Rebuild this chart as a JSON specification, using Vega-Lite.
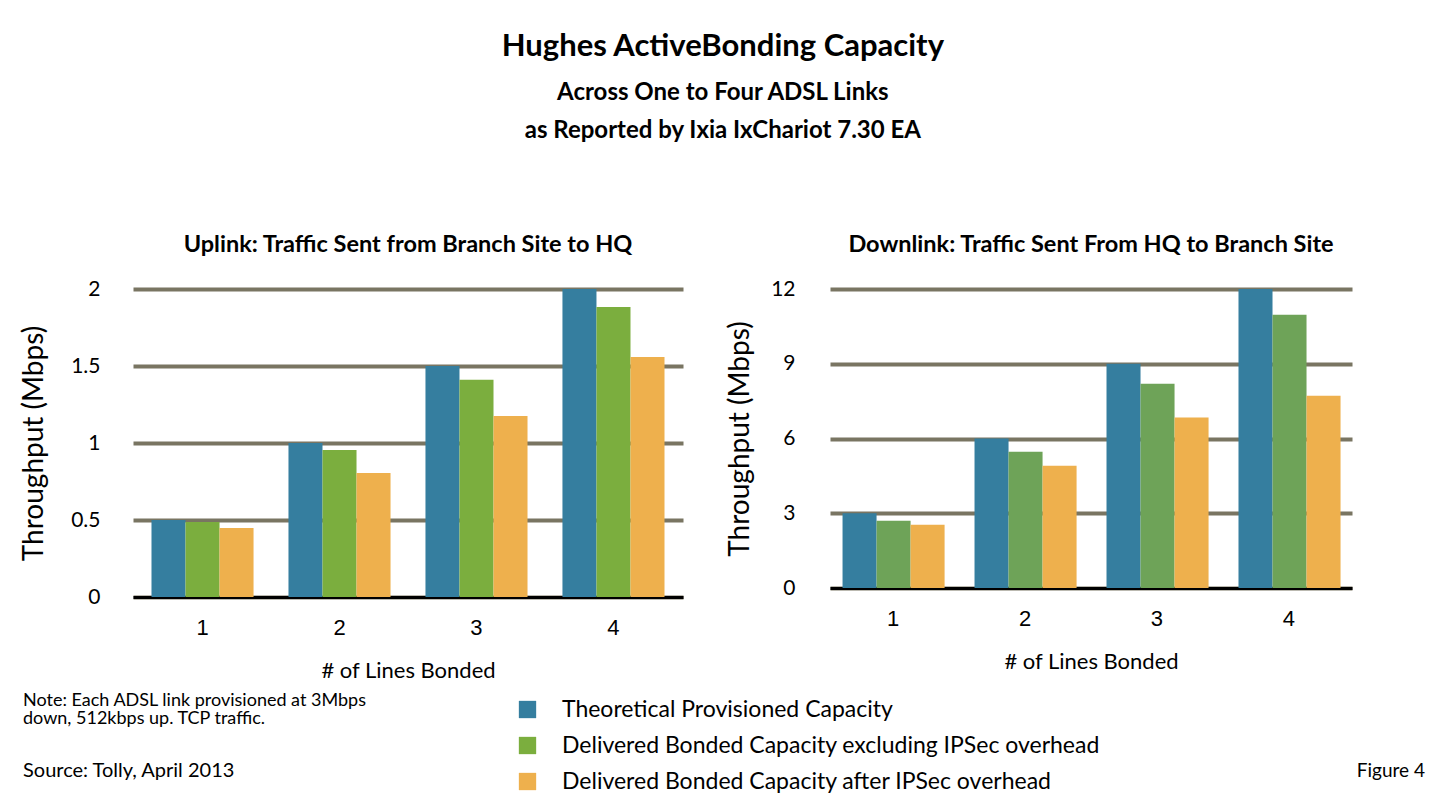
{
  "$schema": "https://vega.github.io/schema/vega-lite/v6.json",
  "background": "white",
  "padding": {"left": 20, "top": 30, "right": 20, "bottom": 10},
  "config": {
    "font": "Lato",
    "view": {"stroke": null},
    "axis": {"labelColor": "black", "titleColor": "black", "titleFontWeight": "normal"},
    "title": {"color": "black", "subtitleColor": "black"}
  },
  "title": {
    "text": "Hughes ActiveBonding Capacity",
    "subtitle": ["Across One to Four ADSL Links", "as Reported by Ixia IxChariot 7.30 EA"],
    "fontSize": 31,
    "fontWeight": "bold",
    "subtitleFontSize": 24,
    "subtitleFontWeight": "bold",
    "subtitleLineHeight": 38,
    "subtitlePadding": 18,
    "anchor": "middle",
    "offset": 89
  },
  "columns": 1,
  "align": "none",
  "spacing": 10,
  "concat": [
    {
      "spacing": 147,
      "bounds": "flush",
      "hconcat": [
        {
          "width": 550,
          "height": 308,
          "title": {"text": "Uplink: Traffic Sent from Branch Site to HQ", "fontSize": 23.5, "fontWeight": "bold", "offset": 22},
          "data": {"values": [
            {"lines": "1", "series": "Theoretical Provisioned Capacity", "value": 0.5},
            {"lines": "1", "series": "Delivered Bonded Capacity excluding IPSec overhead", "value": 0.487},
            {"lines": "1", "series": "Delivered Bonded Capacity after IPSec overhead", "value": 0.448},
            {"lines": "2", "series": "Theoretical Provisioned Capacity", "value": 1.0},
            {"lines": "2", "series": "Delivered Bonded Capacity excluding IPSec overhead", "value": 0.955},
            {"lines": "2", "series": "Delivered Bonded Capacity after IPSec overhead", "value": 0.805},
            {"lines": "3", "series": "Theoretical Provisioned Capacity", "value": 1.5},
            {"lines": "3", "series": "Delivered Bonded Capacity excluding IPSec overhead", "value": 1.41},
            {"lines": "3", "series": "Delivered Bonded Capacity after IPSec overhead", "value": 1.175},
            {"lines": "4", "series": "Theoretical Provisioned Capacity", "value": 2.0},
            {"lines": "4", "series": "Delivered Bonded Capacity excluding IPSec overhead", "value": 1.883},
            {"lines": "4", "series": "Delivered Bonded Capacity after IPSec overhead", "value": 1.558}
          ]},
          "mark": {"type": "bar"},
          "encoding": {
            "x": {
              "field": "lines", "type": "nominal", "title": "# of Lines Bonded",
              "scale": {"paddingInner": 0.255, "paddingOuter": 0.135},
              "axis": {"labelAngle": 0, "labelFont": "Liberation Sans", "labelFontSize": 22, "labelPadding": 20, "ticks": false, "domainColor": "black", "domainWidth": 3, "titleFontSize": 22, "titlePadding": 22}
            },
            "xOffset": {"field": "series", "type": "nominal", "sort": ["Theoretical Provisioned Capacity", "Delivered Bonded Capacity excluding IPSec overhead", "Delivered Bonded Capacity after IPSec overhead"], "scale": {"paddingInner": 0, "paddingOuter": 0}},
            "y": {
              "field": "value", "type": "quantitative", "title": "Throughput (Mbps)",
              "scale": {"domain": [0, 2]},
              "axis": {"values": [0, 0.5, 1, 1.5, 2], "format": "~g", "grid": true, "gridColor": "#797562", "gridWidth": 4, "ticks": false, "domain": false, "labelFontSize": 21, "labelPadding": 33, "titleFontSize": 28, "titlePadding": 22}
            },
            "color": {
              "field": "series", "type": "nominal",
              "scale": {"domain": ["Theoretical Provisioned Capacity", "Delivered Bonded Capacity excluding IPSec overhead", "Delivered Bonded Capacity after IPSec overhead"], "range": ["#357E9F", "#7BAE3E", "#EEB04D"]},
              "legend": {"orient": "none", "legendX": 383, "legendY": 409, "title": null, "symbolType": "square", "symbolSize": 300, "symbolStrokeWidth": 0, "symbolOpacity": 1, "labelFontSize": 23, "labelColor": "black", "labelOffset": 23, "labelLimit": 700, "rowPadding": 12}
            }
          }
        },
        {
          "width": 522,
          "height": 299,
          "title": {"text": "Downlink: Traffic Sent From HQ to Branch Site", "fontSize": 23.5, "fontWeight": "bold", "offset": 22},
          "data": {"values": [
            {"lines": "1", "series": "Theoretical Provisioned Capacity", "value": 3},
            {"lines": "1", "series": "Delivered Bonded Capacity excluding IPSec overhead", "value": 2.7},
            {"lines": "1", "series": "Delivered Bonded Capacity after IPSec overhead", "value": 2.54},
            {"lines": "2", "series": "Theoretical Provisioned Capacity", "value": 6},
            {"lines": "2", "series": "Delivered Bonded Capacity excluding IPSec overhead", "value": 5.47},
            {"lines": "2", "series": "Delivered Bonded Capacity after IPSec overhead", "value": 4.91},
            {"lines": "3", "series": "Theoretical Provisioned Capacity", "value": 9},
            {"lines": "3", "series": "Delivered Bonded Capacity excluding IPSec overhead", "value": 8.2},
            {"lines": "3", "series": "Delivered Bonded Capacity after IPSec overhead", "value": 6.84},
            {"lines": "4", "series": "Theoretical Provisioned Capacity", "value": 12},
            {"lines": "4", "series": "Delivered Bonded Capacity excluding IPSec overhead", "value": 10.97},
            {"lines": "4", "series": "Delivered Bonded Capacity after IPSec overhead", "value": 7.72}
          ]},
          "mark": {"type": "bar"},
          "encoding": {
            "x": {
              "field": "lines", "type": "nominal", "title": "# of Lines Bonded",
              "scale": {"paddingInner": 0.235, "paddingOuter": 0.095},
              "axis": {"labelAngle": 0, "labelFont": "Liberation Sans", "labelFontSize": 22, "labelPadding": 20, "ticks": false, "domainColor": "black", "domainWidth": 3, "titleFontSize": 22, "titlePadding": 22}
            },
            "xOffset": {"field": "series", "type": "nominal", "sort": ["Theoretical Provisioned Capacity", "Delivered Bonded Capacity excluding IPSec overhead", "Delivered Bonded Capacity after IPSec overhead"], "scale": {"paddingInner": 0, "paddingOuter": 0}},
            "y": {
              "field": "value", "type": "quantitative", "title": "Throughput (Mbps)",
              "scale": {"domain": [0, 12]},
              "axis": {"values": [0, 3, 6, 9, 12], "grid": true, "gridColor": "#797562", "gridWidth": 4, "ticks": false, "domain": false, "labelFontSize": 21, "labelPadding": 35, "titleFontSize": 28, "titlePadding": 16}
            },
            "fill": {
              "field": "series", "type": "nominal",
              "scale": {"domain": ["Theoretical Provisioned Capacity", "Delivered Bonded Capacity excluding IPSec overhead", "Delivered Bonded Capacity after IPSec overhead"], "range": ["#357E9F", "#6EA358", "#EEB04D"]},
              "legend": null
            }
          }
        }
      ]
    },
    {
      "spacing": 10,
      "hconcat": [
        {
          "width": 400,
          "height": 1,
          "title": {
            "text": ["Note: Each ADSL link provisioned at 3Mbps", "down, 512kbps up. TCP traffic."],
            "subtitle": "Source: Tolly, April 2013",
            "anchor": "start",
            "dx": -110,
            "fontSize": 18,
            "fontWeight": "normal",
            "lineHeight": 18,
            "subtitleFontSize": 20,
            "subtitlePadding": 33,
            "offset": 2
          },
          "data": {"values": [{}]},
          "mark": {"type": "text"},
          "encoding": {"text": {"value": ""}}
        },
        {
          "width": 882,
          "height": 1,
          "title": {"text": "Figure 4", "anchor": "end", "fontSize": 19, "fontWeight": "normal", "offset": 2},
          "data": {"values": [{}]},
          "mark": {"type": "text"},
          "encoding": {"text": {"value": ""}}
        }
      ]
    }
  ]
}
